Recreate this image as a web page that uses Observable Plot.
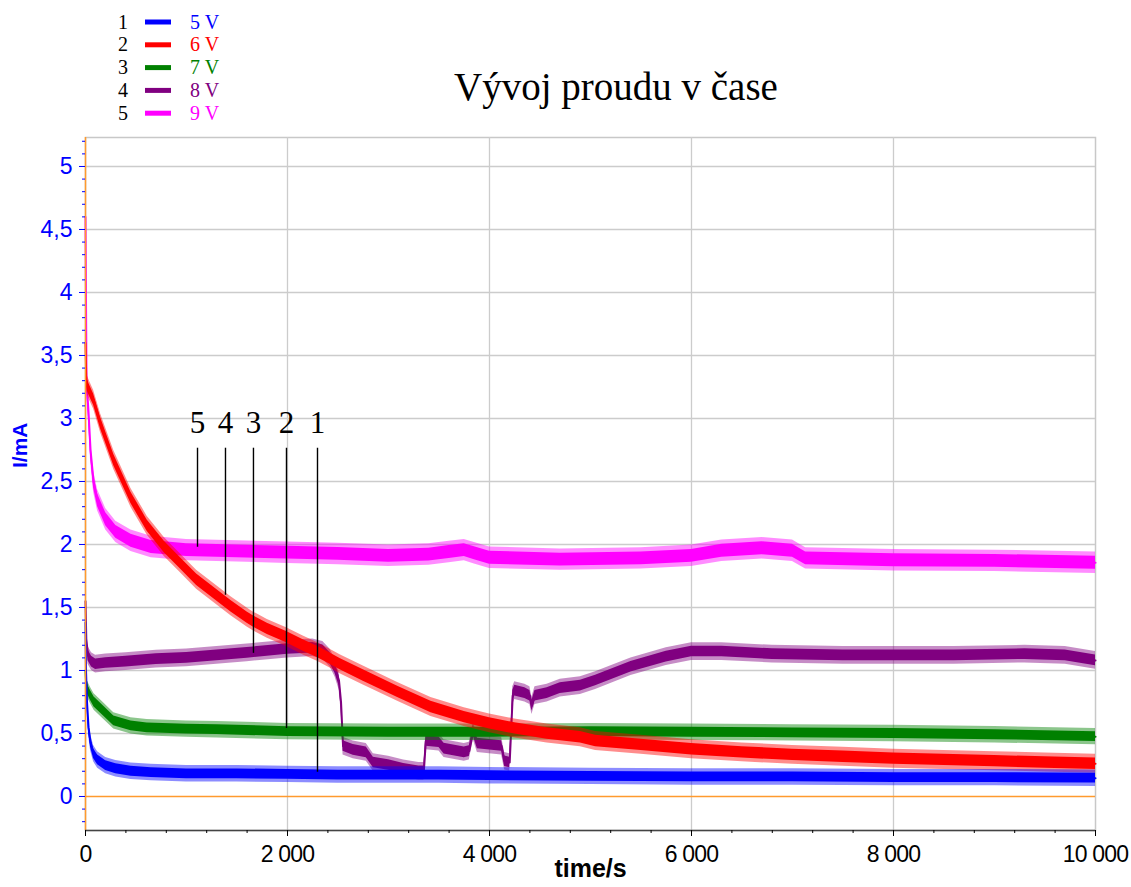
<!DOCTYPE html>
<html>
<head>
<meta charset="utf-8">
<script src="https://cdn.jsdelivr.net/npm/d3@7"></script>
<script src="https://cdn.jsdelivr.net/npm/@observablehq/plot@0.6"></script>
<style>
  html, body { margin: 0; padding: 0; background: #fff; }
  #wrap { position: relative; width: 1131px; height: 887px; }
  #wrap > svg { position: absolute; left: 0; top: 0; }
  #overlay { pointer-events: none; }
  g[aria-label="x-axis tick label"] text { letter-spacing: -0.8px; }
</style>
</head>
<body>
<div id="wrap"></div>
<script>
// ---------------- data ----------------
const seriesIds = ["1", "2", "3", "4", "5"];
const seriesNames = ["5 V", "6 V", "7 V", "8 V", "9 V"];
const seriesColors = ["#0000ff", "#ff0000", "#008000", "#800080", "#ff00ff"];
// half-width of the measurement noise band of each series (mA)
const noiseHalf = [0.065, 0.075, 0.065, 0.07, 0.085];

// [time/s, I/mA] (centre of the noisy trace)
const current5V = [[0,1.38],[5,1.0],[15,0.75],[30,0.55],[50,0.43],[80,0.34],[120,0.29],[200,0.245],[300,0.22],[450,0.2],[650,0.19],[1000,0.18],[1500,0.18],[2000,0.175],[2500,0.17],[3000,0.17],[3500,0.17],[4000,0.165],[5000,0.16],[6000,0.155],[7000,0.155],[8000,0.15],[9000,0.15],[10000,0.145]];
const current6V = [[0,3.6],[8,3.3],[20,3.26],[40,3.22],[80,3.15],[150,2.96],[280,2.67],[450,2.37],[610,2.15],[780,1.98],[940,1.85],[1100,1.72],[1270,1.615],[1440,1.51],[1600,1.42],[1660,1.39],[1800,1.33],[1990,1.265],[2150,1.2],[2300,1.146],[2430,1.09],[2520,1.05],[2750,0.96],[3090,0.83],[3420,0.71],[3750,0.63],[4000,0.58],[4250,0.54],[4570,0.5],[4900,0.47],[5050,0.44],[5500,0.41],[6000,0.375],[6500,0.35],[7000,0.33],[7500,0.315],[8000,0.3],[8500,0.29],[9000,0.28],[9500,0.27],[10000,0.26]];
const current7V = [[0,1.0],[5,0.92],[20,0.85],[50,0.8],[85,0.75],[150,0.7],[280,0.6],[450,0.56],[610,0.545],[1000,0.535],[1300,0.53],[2000,0.515],[3000,0.51],[4000,0.51],[5000,0.515],[6000,0.51],[7000,0.505],[8000,0.5],[9000,0.49],[10000,0.475]];
const current8V = [[0,1.55],[8,1.25],[25,1.12],[60,1.07],[100,1.05],[200,1.06],[400,1.07],[700,1.09],[1000,1.1],[1300,1.12],[1600,1.14],[2000,1.17],[2250,1.18],[2350,1.16],[2420,1.1],[2470,1.02],[2510,0.92],[2530,0.75],[2550,0.4],[2650,0.37],[2780,0.35],[2850,0.27],[3000,0.25],[3150,0.22],[3300,0.2],[3350,0.2],[3370,0.44],[3500,0.43],[3550,0.38],[3750,0.35],[3800,0.36],[3840,0.52],[3880,0.42],[4000,0.41],[4120,0.4],[4150,0.28],[4200,0.27],[4230,0.8],[4250,0.84],[4350,0.82],[4400,0.8],[4420,0.72],[4450,0.8],[4570,0.82],[4700,0.86],[4900,0.88],[5050,0.92],[5400,1.03],[5750,1.11],[6000,1.15],[6300,1.15],[6800,1.13],[7500,1.12],[8000,1.12],[8600,1.12],[9300,1.13],[9700,1.12],[10000,1.08]];
const current9V = [[0,4.6],[10,3.3],[30,3.05],[50,2.75],[80,2.5],[120,2.35],[200,2.2],[300,2.1],[450,2.03],[650,1.98],[1000,1.955],[1500,1.945],[2000,1.935],[2500,1.925],[3000,1.91],[3400,1.92],[3600,1.94],[3750,1.955],[3850,1.93],[4000,1.895],[4700,1.88],[5500,1.89],[6000,1.91],[6300,1.95],[6700,1.97],[7000,1.95],[7130,1.89],[8000,1.875],[9000,1.87],[10000,1.855]];
const seriesData = [current5V, current6V, current7V, current8V, current9V];

// numbered markers 5 4 3 2 1 : time/s and current where each pointer line ends
const markerLabels = ["5", "4", "3", "2", "1"];
const markerTimes = [1109, 1386, 1663, 1990, 2297];
const markerEnds = [1.978, 1.597, 1.136, 0.54, 0.193];
const markerTop = 2.764;
const markerLabelY = 2.883;

// axes
const xDomain = [0, 10000];
const yDomain = [-0.27, 5.23];
const xTicks = [0, 2000, 4000, 6000, 8000, 10000];
const xMinorTicks = [400,800,1200,1600,2400,2800,3200,3600,4400,4800,5200,5600,6400,6800,7200,7600,8400,8800,9200,9600];
const yTicks = [0, 0.5, 1, 1.5, 2, 2.5, 3, 3.5, 4, 4.5, 5];
const yMinorTicks = [-0.2,-0.1,0.1,0.2,0.3,0.4,0.6,0.7,0.8,0.9,1.1,1.2,1.3,1.4,1.6,1.7,1.8,1.9,2.1,2.2,2.3,2.4,2.6,2.7,2.8,2.9,3.1,3.2,3.3,3.4,3.6,3.7,3.8,3.9,4.1,4.2,4.3,4.4,4.6,4.7,4.8,4.9,5.1,5.2];
const yGrid = [0.5, 1, 1.5, 2, 2.5, 3, 3.5, 4, 4.5, 5];
const xGrid = [2000, 4000, 6000, 8000];

const title = "Vývoj proudu v čase";
const xLabel = "time/s";
const yLabel = "I/mA";

// ---------------- build ----------------
const fmtX = d3.formatLocale({decimal: ",", thousands: "\u00a0", grouping: [3], currency: ["", ""]}).format(",d");
const fmtY = d => String(d).replace(".", ",");
const ORANGE = "#ff9a2e";
const SERIF = "'Liberation Serif', 'DejaVu Serif', serif";

const rowsBySeries = seriesData.map((arr, i) =>
  arr.map(([t, v]) => ({series: seriesNames[i], t, v, noise: noiseHalf[i]})));

const seriesMarks = [];
for (const i of [4, 3, 2, 1, 0]) {
  const rows = rowsBySeries[i];
  seriesMarks.push(
    Plot.areaY(rows, {x: "t", y1: d => d.v - d.noise, y2: d => d.v + d.noise, fill: seriesColors[i], fillOpacity: 0.45}),
    Plot.areaY(rows, {x: "t", y1: d => d.v - d.noise * 0.6, y2: d => d.v + d.noise * 0.6, fill: seriesColors[i]}),
    Plot.line(rows, {x: "t", y: "v", stroke: seriesColors[i], strokeWidth: 2})
  );
}

const markers = markerLabels.map((label, i) => ({label, t: markerTimes[i], end: markerEnds[i]}));

const chart = Plot.plot({
  width: 1131,
  height: 887,
  marginLeft: 85,
  marginRight: 36,
  marginTop: 137,
  marginBottom: 57,
  x: {domain: xDomain, axis: null},
  y: {domain: yDomain, axis: null},
  style: {fontFamily: "'Liberation Sans', Arial, sans-serif", background: "white", overflow: "visible"},
  marks: [
    Plot.frame({stroke: "#c8c8c8", strokeWidth: 1.5}),
    Plot.gridY(yGrid, {stroke: "#cccccc", strokeOpacity: 1, strokeWidth: 1.3}),
    Plot.gridX(xGrid, {stroke: "#cccccc", strokeOpacity: 1, strokeWidth: 1.3}),
    ...seriesMarks,
    Plot.ruleY([0], {stroke: ORANGE, strokeWidth: 1.5}),
    Plot.ruleX([0], {stroke: ORANGE, strokeWidth: 1.5}),
    Plot.ruleY([yDomain[0]], {stroke: "#444", strokeWidth: 1.6}),
    // y axis (blue)
    Plot.axisY(yTicks, {tickSize: 6, tickPadding: 7, tickFormat: fmtY, fontSize: 23, fill: "#0000ff", stroke: "#0000ff", label: null}),
    Plot.axisY(yMinorTicks, {tickSize: 3, tickFormat: () => "", stroke: "#0000ff", label: null}),
    // x axis
    Plot.axisX(xTicks, {anchor: "bottom", tickSize: 6, tickPadding: 9, tickFormat: fmtX, fontSize: 23, fill: "#000", stroke: "#000", label: null}),
    Plot.axisX(xMinorTicks, {anchor: "bottom", tickSize: 3, tickFormat: () => "", stroke: "#000", label: null}),
    Plot.text([xLabel], {frameAnchor: "bottom", dy: 46, fontWeight: "bold", fontSize: 25, fill: "#000"}),
    Plot.text([yLabel], {frameAnchor: "left", dx: -65, dy: -16, rotate: -90, fontWeight: "bold", fontSize: 21, fill: "#0000ff"}),
    // numbered pointer lines
    Plot.ruleX(markers, {x: "t", y1: markerTop, y2: "end", stroke: "#000", strokeWidth: 1.4}),
    Plot.text(markers, {x: "t", y: markerLabelY, text: "label", lineAnchor: "bottom", fontSize: 31, fontFamily: SERIF, fill: "#000"})
  ]
});
document.getElementById("wrap").appendChild(chart);

// title + legend above the plotting area
const ns = "http://www.w3.org/2000/svg";
const ov = d3.select("#wrap").append("svg")
  .attr("id", "overlay").attr("xmlns", ns)
  .attr("width", 1131).attr("height", 135)
  .style("font-family", SERIF);

ov.append("text").attr("x", 616).attr("y", 100).attr("text-anchor", "middle")
  .attr("font-size", 39).attr("fill", "#000").text(title);

seriesIds.forEach((id, i) => {
  const cy = 22 + i * 22.8;
  const g = ov.append("g").attr("transform", `translate(0,${cy})`);
  g.append("text").attr("x", 123).attr("y", 6.5).attr("text-anchor", "middle")
    .attr("font-size", 20).attr("fill", "#000").text(id);
  g.append("line").attr("x1", 145).attr("x2", 171).attr("y1", 0).attr("y2", 0)
    .attr("stroke", seriesColors[i]).attr("stroke-width", 5);
  g.append("text").attr("x", 190).attr("y", 6.5)
    .attr("font-size", 20).attr("fill", seriesColors[i]).text(seriesNames[i]);
});
</script>
</body>
</html>
